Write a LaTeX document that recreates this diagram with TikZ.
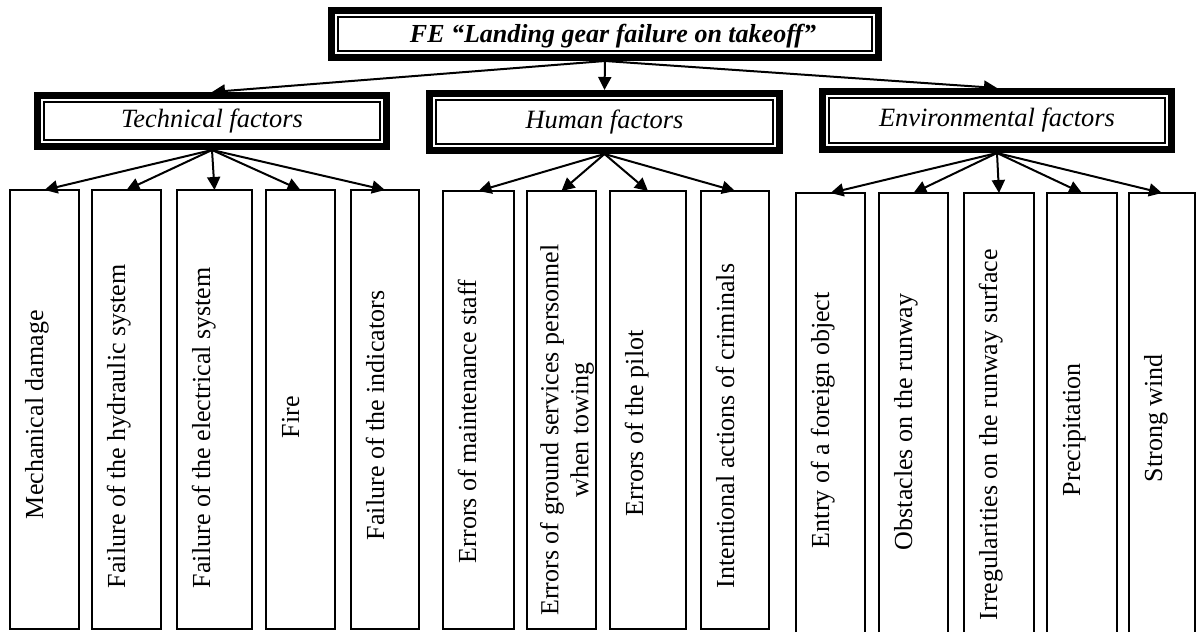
\documentclass[tikz,border=0pt]{standalone}
\usepackage{fontspec}
\setmainfont{Liberation Serif}
\usetikzlibrary{arrows.meta,calc}

% leaf box from its left, right, top and bottom edges (in px units)
\newcommand\leafnode[5]{%
  \node[leafbox, minimum width={(#3-#2)*0.5pt}, minimum height={(#5-#4)*0.5pt}]
    (#1) at ({(#2+#3)/2},{(#4+#5)/2}) {};}
% same, but the box runs off the lower edge: draw only three sides
\newcommand\openleafnode[5]{%
  \node[minimum width={(#3-#2)*0.5pt}, minimum height={(#5-#4)*0.5pt}]
    (#1) at ({(#2+#3)/2},{(#4+#5)/2}) {};
  \draw[line width=1pt] (#1.south west) -- (#1.north west) -- (#1.north east) -- (#1.south east);}
% heavy outer border with a thin inner rule
\newcommand\heavyframe[1]{%
  \draw[line width=3.4pt] ($(#1.north west)+(3.4,3.4)$) rectangle ($(#1.south east)+(-3.4,-3.4)$);
  \draw[line width=0.75pt] ($(#1.north west)+(10,10)$) rectangle ($(#1.south east)+(-10,-10)$);}

\begin{document}
\begin{tikzpicture}[x=0.5pt,y=-0.5pt,
  every node/.style={inner sep=0pt, outer sep=0pt},
  leafbox/.style={draw, line width=1pt, rectangle},
  leaftext/.style={rotate=90, anchor=base west, font=\fontsize{13pt}{15pt}\selectfont},
  cattext/.style={font=\fontsize{13.2pt}{15pt}\selectfont\itshape},
  toptext/.style={font=\fontsize{13pt}{15pt}\selectfont\bfseries\itshape},
  link/.style={line width=1pt, -{Triangle[length=6.5pt,width=6.5pt]}},
]
\useasboundingbox (0,0) rectangle (1198,632);

% root
\node[minimum width={(882-328)*0.5pt}, minimum height={(61-7)*0.5pt}]
  (root) at (605,34) {};
\node[toptext, anchor=base] (roottext) at (613,42) {FE “Landing gear failure on takeoff”};

% factor groups
\node[cattext, minimum width={(390-34)*0.5pt}, minimum height={(150-92)*0.5pt}]
  (tech) at (212,121) {Technical factors};
\node[cattext, minimum width={(783-426)*0.5pt}, minimum height={(154-90)*0.5pt}]
  (human) at (604.5,122) {Human factors};
\node[cattext, minimum width={(1175-819)*0.5pt}, minimum height={(153-88)*0.5pt}]
  (env) at (997,120.5) {Environmental factors};

% technical leaves
\leafnode{t1}{10}{79}{190}{629}
\leafnode{t2}{92}{161}{190}{629}
\leafnode{t3}{177}{252}{190}{629}
\leafnode{t4}{266}{335}{190}{629}
\leafnode{t5}{351}{419}{190}{629}
% human leaves
\leafnode{h1}{443}{514}{191}{629}
\leafnode{h2}{527}{596}{191}{629}
\leafnode{h3}{610}{686}{191}{629}
\leafnode{h4}{701}{769}{191}{629}
% environmental leaves
\openleafnode{e1}{796}{865}{193}{632}
\openleafnode{e2}{879}{948}{193}{632}
\openleafnode{e3}{964}{1034}{193}{632}
\openleafnode{e4}{1047}{1117}{193}{632}
\openleafnode{e5}{1129}{1195}{193}{632}

% leaf labels, reading upwards
\node[leaftext] (t1l) at (43,519) {Mechanical damage};
\node[leaftext] (t2l) at (125,588) {Failure of the hydraulic system};
\node[leaftext] (t3l) at (210,588) {Failure of the electrical system};
\node[leaftext] (t4l) at (299,438) {Fire};
\node[leaftext] (t5l) at (384,540) {Failure of the indicators};
\node[leaftext] (h1l) at (476,563) {Errors of maintenance staff};
\node[leaftext, anchor=center, align=center] (h2l) at (567,430)
  {Errors of ground services personnel\\when towing};
\node[leaftext] (h3l) at (643,516) {Errors of the pilot};
\node[leaftext] (h4l) at (734,588) {Intentional actions of criminals};
\node[leaftext] (e1l) at (829,548) {Entry of a foreign object};
\node[leaftext] (e2l) at (912,550) {Obstacles on the runway};
\node[leaftext] (e3l) at (997,620) {Irregularities on the runway surface};
\node[leaftext] (e4l) at (1080,496) {Precipitation};
\node[leaftext] (e5l) at (1162,482) {Strong wind};

% connectors
\draw[link] (root.south) -- (tech.north);
\draw[link] (root.south) -- (human.north);
\draw[link] (root.south) -- (env.north);
\foreach \n in {t1,t2,t3,t4,t5} \draw[link] (tech.south) -- (\n.north);
\foreach \n in {h1,h2,h3,h4} \draw[link] (human.south) -- (\n.north);
\foreach \n in {e1,e2,e3,e4,e5} \draw[link] (env.south) -- (\n.north);

% framed headings on top of the connector ends
\heavyframe{root}
\heavyframe{tech}
\heavyframe{human}
\heavyframe{env}
\end{tikzpicture}
\end{document}
